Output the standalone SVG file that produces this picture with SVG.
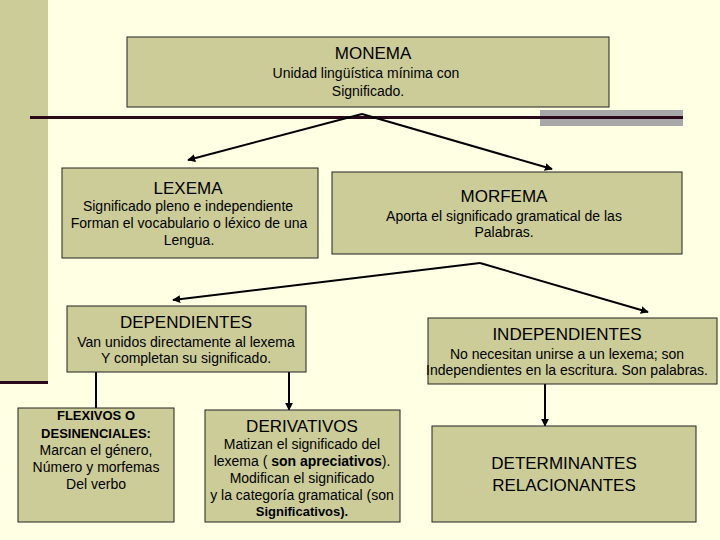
<svg xmlns="http://www.w3.org/2000/svg" width="720" height="540" viewBox="0 0 720 540">
<style>
.b{fill:#CCCC99;stroke:#222;stroke-width:1}
text{font-family:"Liberation Sans",Arial,sans-serif;fill:#000;text-anchor:middle}
.t{font-size:17px}.s{font-size:14px}.k{font-size:13px;font-weight:bold}
.c{stroke:#000;stroke-width:2;fill:none}
</style>
<defs><marker id="a" viewBox="0 0 10 10" refX="9" refY="5" markerWidth="4" markerHeight="4" orient="auto"><path d="M0,0L10,5L0,10z" fill="#000"/></marker></defs>
<rect width="720" height="540" fill="#FFFFE3"/>
<rect x="0" y="0" width="48" height="383" fill="#CCCC99"/>
<rect x="0" y="381" width="48" height="3" fill="#2A0A1A"/>
<rect x="540" y="110" width="143" height="16" fill="#A8A8A8"/>
<rect x="30" y="116" width="653" height="3" fill="#2A0A1A"/>
<g id="connectors">
<path class="c" d="M362,114L188,160" marker-end="url(#a)"/>
<path class="c" d="M362,114L552,169" marker-end="url(#a)"/>
<path class="c" d="M480,263L173,300" marker-end="url(#a)"/>
<path class="c" d="M480,263L648,312" marker-end="url(#a)"/>
<path class="c" d="M96,366L96,408"/>
<path class="c" d="M289,372L289,410" marker-end="url(#a)"/>
<path class="c" d="M545,384L545,426" marker-end="url(#a)"/>
</g>
<g id="monema"><rect class="b" x="127" y="37" width="482" height="70"/>
<text class="t" x="373" y="59">MONEMA</text><text class="s" x="366" y="78">Unidad lingüística mínima con</text><text class="s" x="368" y="96">Significado.</text></g>
<g id="lexema"><rect class="b" x="62" y="168" width="256" height="90"/>
<text class="t" x="188" y="194">LEXEMA</text><text class="s" x="188" y="211">Significado pleno e independiente</text><text class="s" x="189" y="228">Forman el vocabulario o léxico de una</text><text class="s" x="189" y="245">Lengua.</text></g>
<g id="morfema"><rect class="b" x="332" y="172" width="350" height="82"/>
<text class="t" x="504" y="202">MORFEMA</text><text class="s" x="504" y="221">Aporta el significado gramatical de las</text><text class="s" x="504" y="237">Palabras.</text></g>
<g id="dependientes"><rect class="b" x="67" y="306" width="239" height="66"/>
<text class="t" x="186" y="328">DEPENDIENTES</text><text class="s" x="186" y="347">Van unidos directamente al lexema</text><text class="s" x="186" y="363">Y completan su significado.</text></g>
<g id="independientes"><rect class="b" x="428" y="318" width="289" height="66"/>
<text class="t" x="567" y="340">INDEPENDIENTES</text><text class="s" x="567" y="359">No necesitan unirse a un lexema; son</text><text class="s" x="567" y="375" textLength="282" lengthAdjust="spacingAndGlyphs">Independientes en la escritura. Son palabras.</text></g>
<g id="flexivos"><rect class="b" x="18" y="408" width="156" height="114"/>
<text class="k" x="96" y="420">FLEXIVOS O</text><text class="k" x="96" y="438">DESINENCIALES:</text><text class="s" x="96" y="455">Marcan el género,</text><text class="s" x="96" y="472">Número y morfemas</text><text class="s" x="96" y="489">Del verbo</text></g>
<g id="derivativos"><rect class="b" x="205" y="410" width="195" height="112"/>
<text class="t" x="302" y="432">DERIVATIVOS</text><text class="s" x="302" y="449">Matizan el significado del</text><text class="s" x="302" y="466">lexema ( <tspan font-weight="bold">son apreciativos</tspan>).</text><text class="s" x="302" y="483">Modifican el significado</text><text class="s" x="302" y="500">y la categoría gramatical (son</text><text class="k" x="302" y="516">Significativos).</text></g>
<g id="determinantes"><rect class="b" x="432" y="426" width="264" height="96"/>
<text class="t" x="564" y="469">DETERMINANTES</text><text class="t" x="564" y="491">RELACIONANTES</text></g>
</svg>
